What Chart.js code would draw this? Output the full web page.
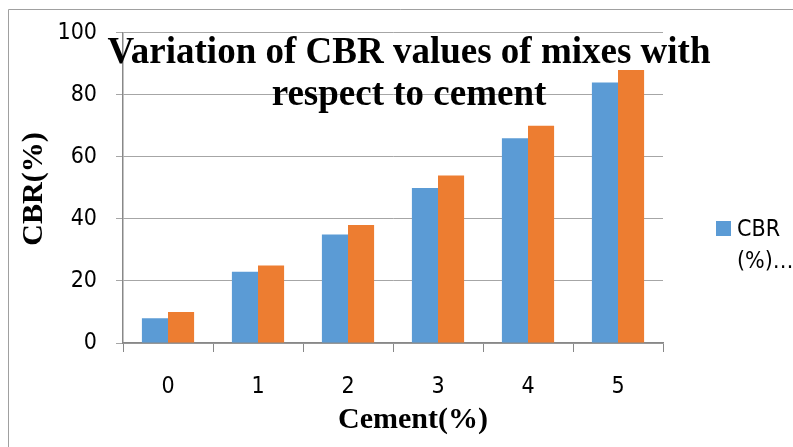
<!DOCTYPE html>
<html>
<head>
<meta charset="utf-8">
<script src="https://cdn.jsdelivr.net/npm/chart.js@4/dist/chart.umd.min.js"></script>
<style>
  html, body { margin: 0; padding: 0; background: #fff; }
  #wrap { width: 793px; height: 447px; position: relative; }
</style>
</head>
<body>
<div id="wrap"><canvas id="c" width="793" height="447"></canvas></div>
<script>
// ---- data ----
const categories = ["0", "1", "2", "3", "4", "5"];
const seriesA = [8, 23, 35, 50, 66, 84];
const seriesB = [10, 25, 38, 54, 70, 88];
const yTicks = [0, 20, 40, 60, 80, 100];
const titleLines = ["Variation of CBR values of mixes with", "respect to cement"];
const xTitle = "Cement(%)";
const yTitle = "CBR(%)";
const legendLines = ["CBR", "(%)…"];

const BLUE = "#5B9BD5";
const ORANGE = "#ED7D31";
const SANS = "'DejaVu Sans Condensed', 'DejaVu Sans', sans-serif";

const decor = {
  id: "decor",
  beforeDraw(chart) {
    const ctx = chart.ctx;
    ctx.save();
    ctx.fillStyle = "#fff";
    ctx.fillRect(0, 0, chart.width, chart.height);
    ctx.strokeStyle = "#A0A0A0";
    ctx.lineWidth = 1;
    ctx.beginPath();
    ctx.moveTo(8.5, 447);
    ctx.lineTo(8.5, 9.5);
    ctx.lineTo(793, 9.5);
    ctx.stroke();
    ctx.restore();
  },
  afterDraw(chart) {
    const ctx = chart.ctx;
    ctx.save();
    ctx.fillStyle = "#000";
    // title
    ctx.font = "bold 37px 'Liberation Serif', 'Times New Roman', serif";
    ctx.textAlign = "center";
    ctx.textBaseline = "alphabetic";
    ctx.fillText(titleLines[0], 409, 63);
    ctx.fillText(titleLines[1], 409, 105);
    // x title
    ctx.font = "bold 30px 'Liberation Serif', 'Times New Roman', serif";
    ctx.fillText(xTitle, 413, 428);
    // y title
    ctx.save();
    ctx.translate(42, 189);
    ctx.rotate(-Math.PI / 2);
    ctx.fillText(yTitle, 0, 0);
    ctx.restore();
    // legend
    ctx.fillStyle = BLUE;
    ctx.fillRect(716, 221, 15, 15);
    ctx.fillStyle = "#000";
    ctx.textAlign = "left";
    ctx.font = "23px " + SANS;
    ctx.fillText(legendLines[0], 737, 236);
    ctx.fillText(legendLines[1], 737, 268);
    ctx.restore();
  }
};

new Chart(document.getElementById("c"), {
  type: "bar",
  data: {
    labels: categories,
    datasets: [
      { label: "CBR (%)…", data: seriesA, backgroundColor: BLUE, borderWidth: 0 },
      { label: "", data: seriesB, backgroundColor: ORANGE, borderWidth: 0 }
    ]
  },
  plugins: [decor],
  options: {
    responsive: false,
    animation: false,
    devicePixelRatio: 1,
    layout: { padding: { left: 0, top: 32, right: 130, bottom: 0 } },
    plugins: { legend: { display: false }, title: { display: false }, tooltip: { enabled: false } },
    datasets: { bar: { categoryPercentage: 0.58, barPercentage: 1.0 } },
    scales: {
      x: {
        afterFit(s) { s.height = 104; },
        grid: { display: true, drawOnChartArea: false, drawTicks: true, tickLength: 9, color: "#888", tickColor: "#888", offset: true },
        border: { display: true, color: "#888", width: 1.5 },
        ticks: { color: "#000", padding: 21, font: { family: SANS, size: 23 } }
      },
      y: {
        min: 0, max: 100,
        afterFit(s) { s.width = 123; },
        afterBuildTicks(s) { s.ticks = yTicks.map(v => ({ value: v })); },
        grid: { color: "#A6A6A6", tickColor: "#A6A6A6", tickLength: 7, lineWidth: 1 },
        border: { display: true, color: "#888", width: 1.5 },
        ticks: { color: "#000", padding: 19, font: { family: SANS, size: 23 } }
      }
    }
  }
});
</script>
</body>
</html>
